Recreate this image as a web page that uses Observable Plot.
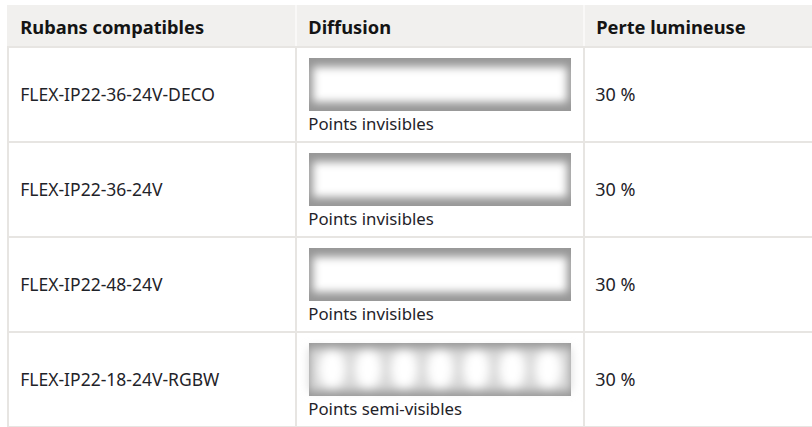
<!DOCTYPE html>
<html><head><meta charset="utf-8">
<script src="https://cdn.jsdelivr.net/npm/d3@7"></script>
<script src="https://cdn.jsdelivr.net/npm/@observablehq/plot@0.6"></script>
<style>
html,body{margin:0;padding:0;background:#fff;}
#chart svg{display:block;}
</style></head><body><div id="chart"></div>
<script>
const columns = ["Rubans compatibles", "Diffusion", "Perte lumineuse"];
const rubans = ["FLEX-IP22-36-24V-DECO", "FLEX-IP22-36-24V", "FLEX-IP22-48-24V", "FLEX-IP22-18-24V-RGBW"];
const diffusions = ["Points invisibles", "Points invisibles", "Points invisibles", "Points semi-visibles"];
const pertes = ["30 %", "30 %", "30 %", "30 %"];

const rows = rubans.map((r, i) => ({ruban: r, diffusion: diffusions[i], perte: pertes[i]}));
const cells = d3.cross(rows, columns).map(([r, c]) => ({ruban: r.ruban, col: c}));

const W = 812, H = 427;
const X0 = 7, COLW = 288.5;
const HEAD_TOP = 5, HEAD_BOT = 46;
const ROWH = 95.5;
const dxStart = -COLW / 2 + 12;
const FONT = "'Noto Sans', sans-serif";
const lineColor = "#e7e5e2";

const defs = () => {
  const g = d3.create("svg:defs");
  const f = g.append("filter").attr("id", "glow").attr("x", "-20%").attr("y", "-60%").attr("width", "140%").attr("height", "220%");
  f.append("feGaussianBlur").attr("stdDeviation", 4);
  const f2 = g.append("filter").attr("id", "glow2").attr("x", "-20%").attr("y", "-60%").attr("width", "140%").attr("height", "220%");
  f2.append("feGaussianBlur").attr("stdDeviation", 5);
  const p = g.append("pattern").attr("id", "spots")
    .attr("patternUnits", "objectBoundingBox")
    .attr("x", 0.019).attr("y", 0).attr("width", 1 / 7.27).attr("height", 1);
  p.append("rect").attr("width", 36.2).attr("height", 60).attr("fill", "#d9d9d9");
  p.append("ellipse").attr("cx", 18.1).attr("cy", 21).attr("rx", 13).attr("ry", 20).attr("fill", "#ffffff");
  return g.node();
};

const header = (index, scales, values, dimensions) => {
  const g = d3.create("svg:g");
  g.append("rect").attr("x", X0).attr("y", HEAD_TOP)
    .attr("width", dimensions.width - X0).attr("height", HEAD_BOT - HEAD_TOP)
    .attr("fill", "#f1f0ee");
  const sx = scales.x;
  columns.slice(1).forEach(c => {
    const xv = typeof sx === "function" ? sx(c) : X0 + COLW * columns.indexOf(c);
    g.append("line").attr("x1", xv).attr("x2", xv).attr("y1", HEAD_TOP).attr("y2", HEAD_BOT)
      .attr("stroke", "#fbfbfa").attr("stroke-width", 1.5);
  });
  return g.node();
};

const chart = Plot.plot({
  width: W,
  height: H,
  marginTop: HEAD_BOT,
  marginBottom: 0,
  marginLeft: 0,
  marginRight: 0,
  style: {fontFamily: FONT, background: "#fff", overflow: "hidden"},
  x: {type: "band", domain: columns, range: [X0, X0 + COLW * 3], padding: 0},
  y: {type: "band", domain: rubans, range: [HEAD_BOT, HEAD_BOT + ROWH * 4], padding: 0, axis: null},
  marks: [
    defs,
    header,
    Plot.cell(cells, {x: "col", y: "ruban", fill: "white", stroke: lineColor, strokeWidth: 2}),
    Plot.axisX({anchor: "top", tickSize: 0, tickPadding: 13, textAnchor: "start", dx: dxStart,
      fontSize: 18.3, fontWeight: "bold", fill: "#141414", label: null, fontFamily: FONT}),
    Plot.text(rows, {x: () => columns[0], y: "ruban", text: "ruban", textAnchor: "start", dx: dxStart,
      fontSize: 17.5, fill: "#1f2329", fontFamily: FONT}),
    Plot.text(rows, {x: () => columns[2], y: "ruban", text: "perte", textAnchor: "start", dx: dxStart - 1,
      fontSize: 18, fill: "#1f2329", fontFamily: FONT}),
    Plot.cell(rows, {x: () => columns[1], y: "ruban", fill: "#979797",
      insetLeft: 13, insetRight: 13, insetTop: 11, insetBottom: 31}),
    Plot.cell(rows.filter(d => d.diffusion === "Points invisibles"), {x: () => columns[1], y: "ruban", fill: "white",
      insetLeft: 17, insetRight: 17, insetTop: 20, insetBottom: 40, ariaDescription: "glow"}),
    Plot.cell(rows.filter(d => d.diffusion === "Points semi-visibles"), {x: () => columns[1], y: "ruban", fill: "url(#spots)",
      insetLeft: 13, insetRight: 13, insetTop: 16, insetBottom: 36, ariaDescription: "glow2"}),
    Plot.text(rows, {x: () => columns[1], y: "ruban", text: "diffusion", textAnchor: "start", dx: dxStart, dy: 30,
      fontSize: 16.8, fill: "#1f2329", fontFamily: FONT})
  ]
});

chart.querySelectorAll('[aria-description="glow"]').forEach(n => n.setAttribute("filter", "url(#glow)"));
chart.querySelectorAll('[aria-description="glow2"]').forEach(n => n.setAttribute("filter", "url(#glow2)"));
document.getElementById("chart").appendChild(chart);
</script></body></html>
